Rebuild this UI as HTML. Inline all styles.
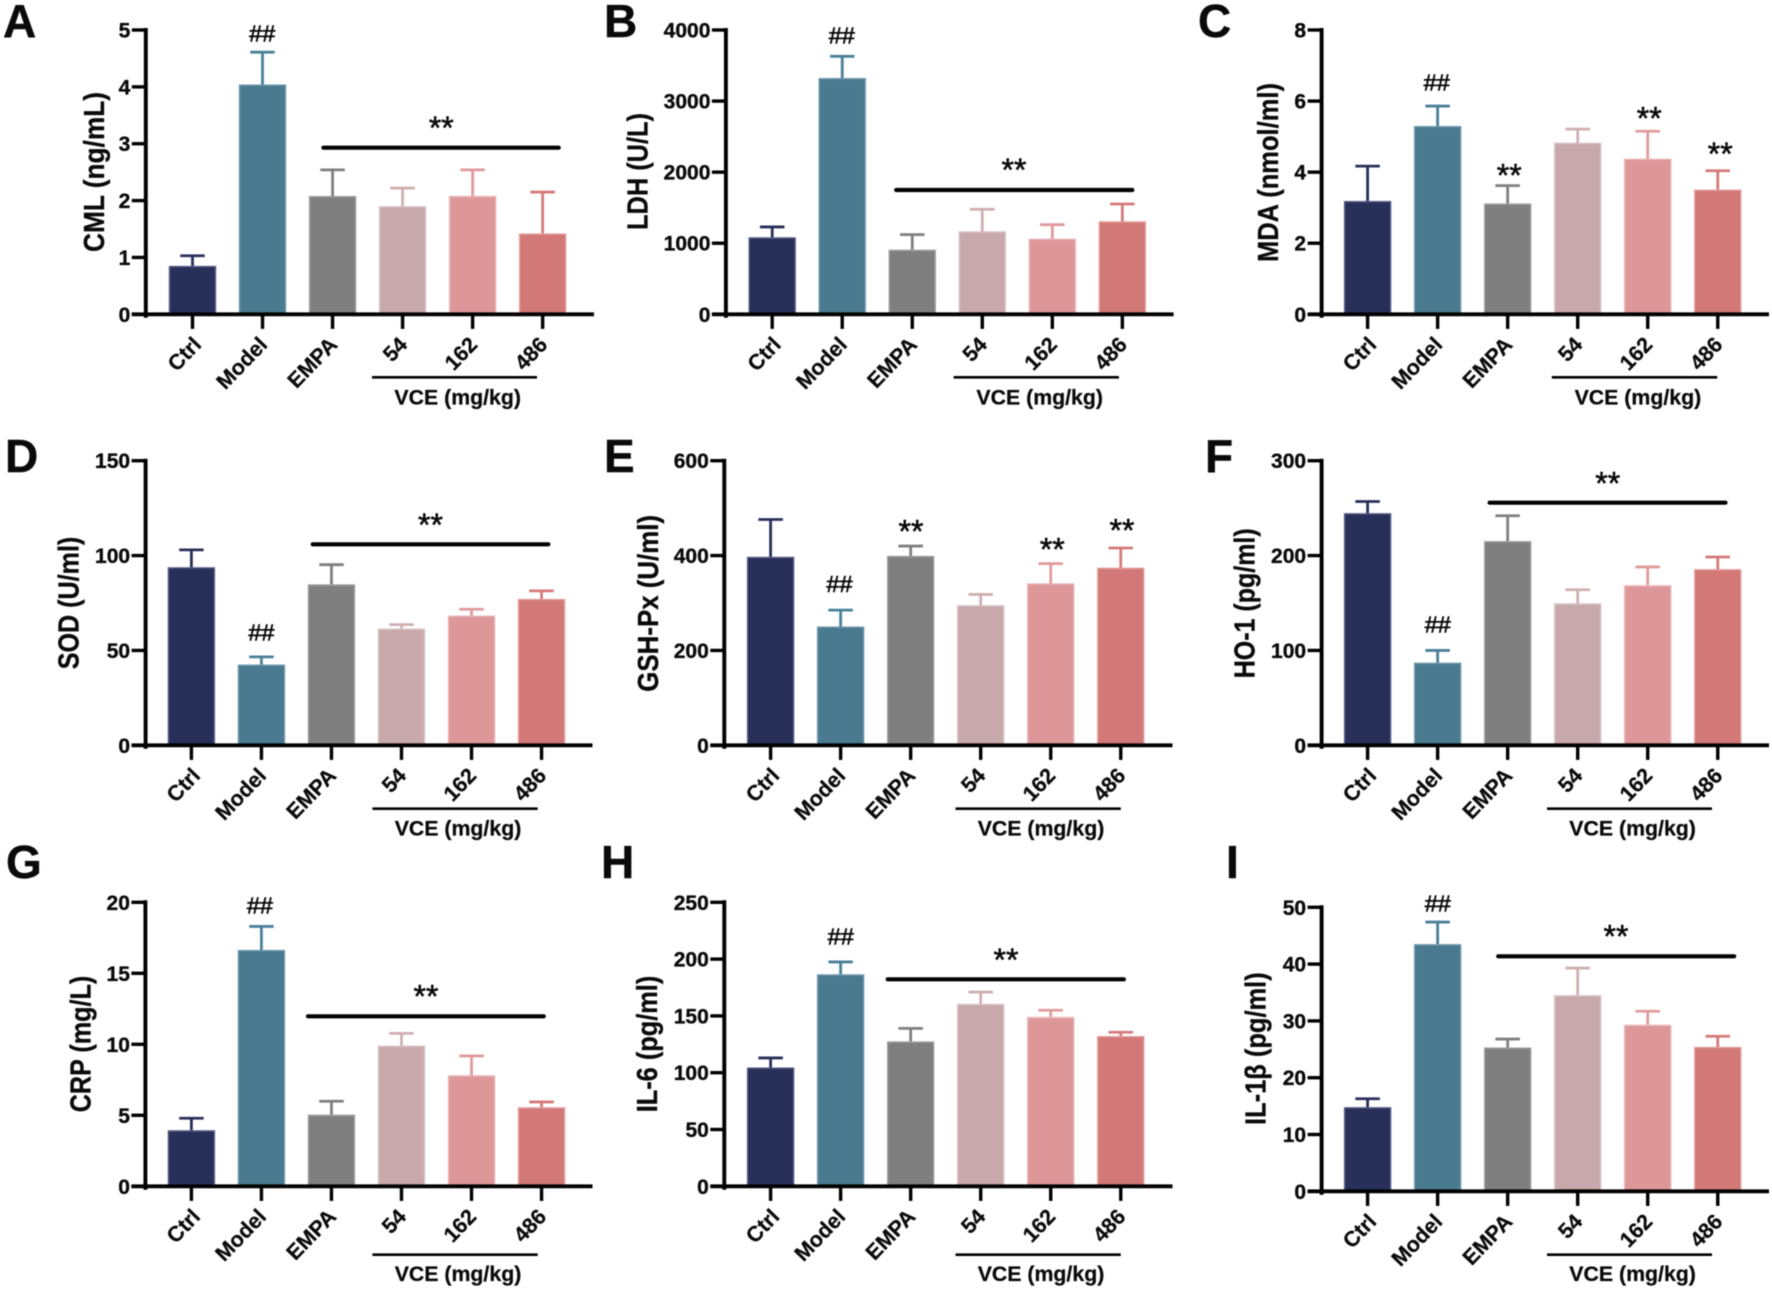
<!DOCTYPE html>
<html lang="en">
<head>
<meta charset="utf-8">
<title>Nine-panel biomarker bar charts</title>
<style>
html,body{margin:0;padding:0;background:#fff;width:1772px;height:1289px;overflow:hidden}
svg{display:block;filter:blur(0.45px)}
text{font-family:"Liberation Sans","DejaVu Sans",sans-serif;fill:#0a0a0a}
</style>
</head>
<body>
<svg id="figure" xmlns="http://www.w3.org/2000/svg" width="1772" height="1289" viewBox="0 0 1772 1289"></svg>
<script>
const categories = ['Ctrl', 'Model', 'EMPA', '54', '162', '486'];

const cmlValues = [0.84, 4.03, 2.07, 1.89, 2.07, 1.41];
const cmlErrors = [1.03, 4.61, 2.54, 2.22, 2.54, 2.15];
const cmlTicks = [0, 1, 2, 3, 4, 5];

const ldhValues = [1074, 3315, 900, 1158, 1055, 1299];
const ldhErrors = [1229, 3630, 1121, 1477, 1261, 1552];
const ldhTicks = [0, 1000, 2000, 3000, 4000];

const mdaValues = [3.17, 5.28, 3.1, 4.81, 4.36, 3.49];
const mdaErrors = [4.17, 5.86, 3.62, 5.21, 5.15, 4.04];
const mdaTicks = [0, 2, 4, 6, 8];

const sodValues = [93.5, 42.2, 84.5, 61.2, 68, 76.8];
const sodErrors = [103, 46.6, 95.2, 63.6, 71.7, 81.4];
const sodTicks = [0, 50, 100, 150];

const gshValues = [396, 249, 398, 294, 340, 373];
const gshErrors = [476, 285, 420, 318, 383, 416];
const gshTicks = [0, 200, 400, 600];

const hoValues = [244, 86.4, 214.6, 149, 168, 185];
const hoErrors = [257, 100, 242, 164, 188, 198.5];
const hoTicks = [0, 100, 200, 300];

const crpValues = [3.9, 16.6, 5.0, 9.86, 7.77, 5.52];
const crpErrors = [4.79, 18.3, 5.99, 10.77, 9.18, 5.94];
const crpTicks = [0, 5, 10, 15, 20];

const il6Values = [104, 186, 127, 160, 148.5, 131.7];
const il6Errors = [113, 197.5, 139, 171, 155, 135.6];
const il6Ticks = [0, 50, 100, 150, 200, 250];

const il1Values = [14.7, 43.4, 25.2, 34.4, 29.2, 25.3];
const il1Errors = [16.3, 47.4, 26.8, 39.3, 31.7, 27.3];
const il1Ticks = [0, 10, 20, 30, 40, 50];

const barColors = ['#28305a', '#4a7a90', '#7f7f7f', '#c8a9ab', '#dd9799', '#d27877'];
const barEdges = ['#585f85', '#6f98ab', '#a0a0a0', '#d8c2c4', '#e8b4b5', '#e09c9b'];
const errColors = ['#28305a', '#4a8098', '#7f7f7f', '#cfb0b2', '#e09a9c', '#d67a7a'];

const panels = [
  {key:'cml', letter:'A', lx:3, ly:37, title:'CML  (ng/mL)', tx:104, t0:92, t1:252, axis:145.8, y0:314.3, top:30, tick0:192.5, xEnd:594, values:cmlValues, errors:cmlErrors, ticks:cmlTicks,
   sig:[323.4,558.7,147.7,441.3,123], hash:[262.2,34.3], stars:[], under:[372,537,377.3,457.7,398]},
  {key:'ldh', letter:'B', lx:604, ly:37, title:'LDH (U/L)', tx:647.4, t0:113, t1:230, axis:725.9, y0:314.3, top:30, tick0:772.2, xEnd:1173.6, values:ldhValues, errors:ldhErrors, ticks:ldhTicks,
   sig:[896.2,1132.3,190,1014,165], hash:[841.8,36.7], stars:[], under:[953.6,1118.9,377.3,1039.7,398]},
  {key:'mda', letter:'C', lx:1198, ly:37, title:'MDA  (nmol/ml)', tx:1278, t0:83, t1:262, axis:1321.6, y0:314.3, top:30, tick0:1367.6, xEnd:1769, values:mdaValues, errors:mdaErrors, ticks:mdaTicks,
   sig:null, hash:[1436.7,83.3], stars:[[1509.2,170.7],[1649.2,113.3],[1720.2,149]], under:[1551.8,1717.2,377.3,1637.9,398]},
  {key:'sod', letter:'D', lx:5, ly:472, title:'SOD (U/ml)', tx:78.5, t0:536.7, t1:669.3, axis:145.6, y0:745.3, top:460.7, tick0:191.4, xEnd:592.5, values:sodValues, errors:sodErrors, ticks:sodTicks,
   sig:[312.7,548.4,544.3,430.5,520], hash:[261.4,633.3], stars:[], under:[372.4,537.7,808.7,458,829]},
  {key:'gsh', letter:'E', lx:604, ly:472, title:'GSH-Px (U/ml)', tx:658, t0:515, t1:691.7, axis:724.3, y0:745.3, top:460.7, tick0:770.6, xEnd:1172.5, values:gshValues, errors:gshErrors, ticks:gshTicks,
   sig:null, hash:[839.5,585], stars:[[911,526.7],[1052.3,544.3],[1122,525.7]], under:[955.5,1120.8,808.7,1041,829]},
  {key:'ho', letter:'F', lx:1205, ly:472, title:'HO-1  (pg/ml)', tx:1254.4, t0:528.3, t1:678.3, axis:1321.6, y0:745.3, top:460.7, tick0:1367.6, xEnd:1769, values:hoValues, errors:hoErrors, ticks:hoTicks,
   sig:[1489.6,1725.5,502.7,1607.7,478.3], hash:[1437.8,625.7], stars:[], under:[1547,1712,808.7,1632.6,829]},
  {key:'crp', letter:'G', lx:6, ly:878, title:'CRP (mg/L)', tx:90.7, t0:975.7, t1:1112.3, axis:145.4, y0:1186.3, top:902.3, tick0:191.4, xEnd:592.5, values:crpValues, errors:crpErrors, ticks:crpTicks,
   sig:[308,543.8,1016.3,426,991.3], hash:[259.9,906.7], stars:[], under:[372.4,537.7,1254.7,458,1274.7]},
  {key:'il6', letter:'H', lx:601, ly:878, title:'IL-6  (pg/ml)', tx:657, t0:975.7, t1:1112.3, axis:724.3, y0:1186.3, top:902.3, tick0:770.6, xEnd:1172.5, values:il6Values, errors:il6Errors, ticks:il6Ticks,
   sig:[887.7,1123.9,979.3,1006,955], hash:[840.7,937.3], stars:[], under:[955.5,1120.8,1254.7,1041,1274.7]},
  {key:'il1', letter:'I', lx:1226, ly:878, title:'IL-1\u03B2 (pg/ml)', tx:1265.7, t0:972.3, t1:1125, axis:1321.6, y0:1191.3, top:907.3, tick0:1367.6, xEnd:1769, values:il1Values, errors:il1Errors, ticks:il1Ticks,
   sig:[1498.2,1734.2,956.3,1616,931.7], hash:[1437.8,904.7], stars:[], under:[1547,1712,1254.7,1632.6,1274.7]}
];

const SVG_NS = 'http://www.w3.org/2000/svg';
const figure = document.getElementById('figure');
const BAND = 70.03;
const BAR_WIDTH = 46;
const CAP_WIDTH = 24.5;
const INK = '#0a0a0a';

function make(tag, attrs, parent) {
  const node = document.createElementNS(SVG_NS, tag);
  for (const k in attrs) node.setAttribute(k, attrs[k]);
  parent.appendChild(node);
  return node;
}
function xScale(p, i) { return p.tick0 + i * BAND; }
function yScale(p, v) {
  const max = p.ticks[p.ticks.length - 1];
  return p.y0 - (v / max) * (p.y0 - p.top);
}
function slug(s) { return String(s).toLowerCase(); }

panels.forEach(function (p) {
  const g = make('g', {}, figure);
  
  

  const letter = make('text', {x:p.lx, y:p.ly, 'font-size':46, 'font-weight':'bold', fill:'#000', stroke:'#000', 'stroke-width':0.4}, g);
  letter.textContent = p.letter;
  
  

  const title = make('text', {
    transform:'translate(' + p.tx + ',' + ((p.t0 + p.t1) / 2) + ') rotate(-90)',
    'text-anchor':'middle', 'font-size':29, 'font-weight':'bold', stroke:INK, 'stroke-width':0.3,
    textLength:(p.t1 - p.t0), lengthAdjust:'spacingAndGlyphs', 'xml:space':'preserve'
  }, g);
  title.textContent = p.title;
  
  

  categories.forEach(function (cat, i) {
    const x = xScale(p, i);
    const yTop = yScale(p, p.values[i]);
    const yErr = yScale(p, p.errors[i]);

    const stem = make('line', {x1:x, x2:x, y1:yTop, y2:yErr, stroke:errColors[i], 'stroke-width':2.8}, g);
    
    

    const cap = make('line', {x1:x - CAP_WIDTH / 2, x2:x + CAP_WIDTH / 2, y1:yErr, y2:yErr, stroke:errColors[i], 'stroke-width':2.8}, g);
    
    

    const bar = make('rect', {x:x - BAR_WIDTH / 2, y:yTop, width:BAR_WIDTH, height:p.y0 - yTop, fill:barColors[i], stroke:barEdges[i], 'stroke-width':1.4}, g);
    
    

    const tick = make('line', {x1:x, x2:x, y1:p.y0, y2:p.y0 + 14.6, stroke:'#000', 'stroke-width':3.4}, g);
    
    

    const labelX = x + 6 + (i === 0 ? 4 : 0);
    const label = make('text', {
      transform:'translate(' + labelX + ',' + (p.y0 + 31.5) + ') rotate(-46)',
      'text-anchor':'end', 'font-size':21.5, 'font-weight':'bold', stroke:INK, 'stroke-width':0.25
    }, g);
    label.textContent = cat;
    
    
  });

  const yAxis = make('line', {x1:p.axis, x2:p.axis, y1:p.top - 2, y2:p.y0 + 3.5, stroke:'#000', 'stroke-width':3.9}, g);
  
  

  const xAxis = make('line', {x1:p.axis - 14, x2:p.xEnd, y1:p.y0, y2:p.y0, stroke:'#000', 'stroke-width':3.9}, g);
  
  

  p.ticks.forEach(function (t) {
    const y = yScale(p, t);
    const tick = make('line', {x1:p.axis - 14, x2:p.axis, y1:y, y2:y, stroke:'#000', 'stroke-width':3.4}, g);
    
    

    const label = make('text', {x:p.axis - 15.5, y:y + 7.5, 'text-anchor':'end', 'font-size':21, 'font-weight':'bold', stroke:INK, 'stroke-width':0.35}, g);
    label.textContent = t;
    
    
  });

  if (p.sig) {
    const sigLine = make('line', {x1:p.sig[0], x2:p.sig[1], y1:p.sig[2], y2:p.sig[2], stroke:'#000', 'stroke-width':4.2, 'stroke-linecap':'round'}, g);
    
    

    const sigText = make('text', {x:p.sig[3], y:p.sig[4] + 16, 'text-anchor':'middle', 'font-size':32, fill:'#000', stroke:'#000', 'stroke-width':0.5}, g);
    sigText.textContent = '**';
    
    
  }

  p.stars.forEach(function (s) {
    const starText = make('text', {x:s[0], y:s[1] + 16, 'text-anchor':'middle', 'font-size':32, fill:'#000', stroke:'#000', 'stroke-width':0.5}, g);
    starText.textContent = '**';
    
    
  });

  const hashText = make('text', {x:p.hash[0], y:p.hash[1] + 7, 'text-anchor':'middle', 'font-size':23.5, fill:'#000', stroke:'#000', 'stroke-width':0.6}, g);
  hashText.textContent = '##';
  
  

  const underline = make('line', {x1:p.under[0], x2:p.under[1], y1:p.under[2], y2:p.under[2], stroke:'#000', 'stroke-width':2.6}, g);
  
  

  const doseLabel = make('text', {x:p.under[3], y:p.under[4] + 6.5, 'text-anchor':'middle', 'font-size':21.3, 'font-weight':'bold', stroke:INK, 'stroke-width':0.25}, g);
  doseLabel.textContent = 'VCE (mg/kg)';
  
  
});
</script>
</body>
</html>
